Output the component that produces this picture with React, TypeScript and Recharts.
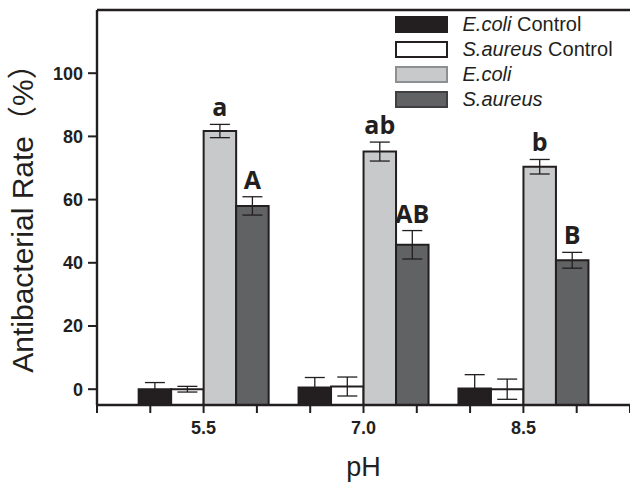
import React from 'react';
import { BarChart, Bar, XAxis, YAxis, ErrorBar, Legend, LabelList, ReferenceLine, Label } from 'recharts';

// ---- data ----
const phValues = [5.5, 7.0, 8.5];
const ecoliControl = [0, 0.5, 0.2];
const ecoliControlErr = [2.1, 3.2, 4.4];
const saureusControl = [0, 0.85, 0];
const saureusControlErr = [0.9, 3.0, 3.2];
const ecoli = [81.7, 75.2, 70.4];
const ecoliErr = [2.1, 3.0, 2.3];
const saureus = [58.0, 45.7, 40.8];
const saureusErr = [2.9, 4.5, 2.5];
const ecoliLetters = ['a', 'ab', 'b'];
const saureusLetters = ['A', 'AB', 'B'];
const yTicks = [0, 20, 40, 60, 80, 100];
const xTicks = [4.5, 5, 5.5, 6, 6.5, 7, 7.5, 8, 8.5, 9, 9.5];
const xLabelled = [5.5, 7.0, 8.5];
const Y_MIN = -5;
const Y_MAX = 120;
const X_MIN = 4.5;
const X_MAX = 9.5;

const INK = '#231f20';
const SANS = '"Liberation Sans", Arial, "Noto Sans CJK SC", sans-serif';

const data = phValues.map((ph, i) => ({
  ph,
  ecoliControl: ecoliControl[i],
  ecoliControlErr: ecoliControlErr[i],
  saureusControl: saureusControl[i],
  saureusControlErr: saureusControlErr[i],
  ecoli: ecoli[i],
  ecoliErr: ecoliErr[i],
  saureus: saureus[i],
  saureusErr: saureusErr[i],
  ecoliLetter: ecoliLetters[i],
  saureusLetter: saureusLetters[i],
}));

const series = [
  { key: 'ecoliControl', err: 'ecoliControlErr', name: 'E.coli Control', italic: 'E.coli', suffix: ' Control', fill: '#231f20', legendBorder: '#231f20' },
  { key: 'saureusControl', err: 'saureusControlErr', name: 'S.aureus Control', italic: 'S.aureus', suffix: ' Control', fill: '#ffffff', legendBorder: '#231f20' },
  { key: 'ecoli', err: 'ecoliErr', name: 'E.coli', italic: 'E.coli', suffix: '', fill: '#c8c9cb', legendBorder: '#8e8f91' },
  { key: 'saureus', err: 'saureusErr', name: 'S.aureus', italic: 'S.aureus', suffix: '', fill: '#616264', legendBorder: '#3f3f41' },
];

const makeLetter = (letters: string[], values: number[], errs: number[]) => (props: any) => {
  const vb = props.viewBox || {};
  const x = vb.x ?? props.x;
  const y = vb.y ?? props.y;
  const width = vb.width ?? props.width;
  const height = vb.height ?? props.height;
  const value = props.value;
  const idx = typeof props.index === 'number' ? props.index : letters.indexOf(value);
  const k = height / (values[idx] - Y_MIN);
  const top = y - errs[idx] * k;
  return (
    <text
      x={x + width / 2}
      y={top - 8}
      textAnchor="middle"
      fontFamily='"Open Sans", sans-serif'
      fontWeight={700}
      fontSize={25}
      fill={INK}
    >
      {value}
    </text>
  );
};

const XTick = (props: any) => {
  const { x, y, payload } = props;
  if (!xLabelled.includes(payload.value)) return null;
  return (
    <text x={x} y={y} dy="0.71em" textAnchor="middle" fontFamily={SANS} fontWeight={700} fontSize={18} fill={INK}>
      {Number(payload.value).toFixed(1)}
    </text>
  );
};

const YLabel = () => (
  <text
    transform="translate(33,211) rotate(-90)"
    textAnchor="middle"
    fontFamily={SANS}
    fontSize={30}
    fill={INK}
  >
    Antibacterial Rate（%）
  </text>
);

const LegendContent = (props: any) => {
  const payload = props.payload || [];
  const ordered = series.filter((s) => payload.length === 0 || payload.some((p: any) => p.value === s.name));
  return (
    <div style={{ display: 'flex', flexDirection: 'column' }}>
      {ordered.map((s) => (
        <div key={s.name} style={{ display: 'flex', alignItems: 'center', height: 24.9 }}>
          <div
            style={{
              width: 53,
              height: 17,
              boxSizing: 'border-box',
              background: s.fill,
              border: `2px solid ${s.legendBorder}`,
            }}
          />
          <span style={{ marginLeft: 14.5, fontFamily: SANS, fontSize: 20, color: INK, whiteSpace: 'pre', lineHeight: '24px' }}>
            <i>{s.italic}</i>
            {s.suffix}
          </span>
        </div>
      ))}
    </div>
  );
};

export default function App() {
  return (
    <div>
      <style>{'body{margin:0}'}</style>
      <BarChart
        width={630}
        height={483}
        data={data}
        margin={{ top: 10, right: 0, bottom: 0, left: 0 }}
        barGap={0}
      >
        <XAxis
          type="number"
          dataKey="ph"
          domain={[X_MIN, X_MAX]}
          ticks={xTicks}
          interval={0}
          allowDataOverflow
          height={78}
          tickSize={8}
          tickMargin={8}
          tick={<XTick />}
          axisLine={{ stroke: INK, strokeWidth: 2.4 }}
          tickLine={{ stroke: INK, strokeWidth: 2 }}
        >
          <Label value="pH" position="insideBottom" offset={7} fontFamily={SANS} fontSize={27} fill={INK} />
        </XAxis>
        <YAxis
          type="number"
          domain={[Y_MIN, Y_MAX]}
          ticks={yTicks}
          interval={0}
          allowDataOverflow
          width={97}
          tickSize={9}
          tickMargin={5}
          tick={{ fontFamily: SANS, fontWeight: 700, fontSize: 18, fill: INK }}
          axisLine={{ stroke: INK, strokeWidth: 2.4 }}
          tickLine={{ stroke: INK, strokeWidth: 2 }}
        >
          <Label content={<YLabel />} />
        </YAxis>
        <ReferenceLine y={Y_MAX} stroke={INK} strokeWidth={2.4} ifOverflow="visible" />
        {series.map((s) => (
          <Bar
            key={s.key}
            name={s.name}
            dataKey={(d: any) => [Y_MIN, d[s.key]]}
            fill={s.fill}
            stroke={INK}
            strokeWidth={2}
            barSize={32.5}
            isAnimationActive={false}
          >
            <ErrorBar dataKey={s.err} width={10} stroke={INK} strokeWidth={1.3} direction="y" />
            {s.key === 'ecoli' && (
              <LabelList dataKey="ecoliLetter" content={makeLetter(ecoliLetters, ecoli, ecoliErr)} />
            )}
            {s.key === 'saureus' && (
              <LabelList dataKey="saureusLetter" content={makeLetter(saureusLetters, saureus, saureusErr)} />
            )}
          </Bar>
        ))}
        <Legend
          layout="vertical"
          align="center"
          verticalAlign="middle"
          content={<LegendContent />}
          wrapperStyle={{ left: 395, top: 12, width: 235, right: 'auto', margin: 0 }}
        />
      </BarChart>
    </div>
  );
}
